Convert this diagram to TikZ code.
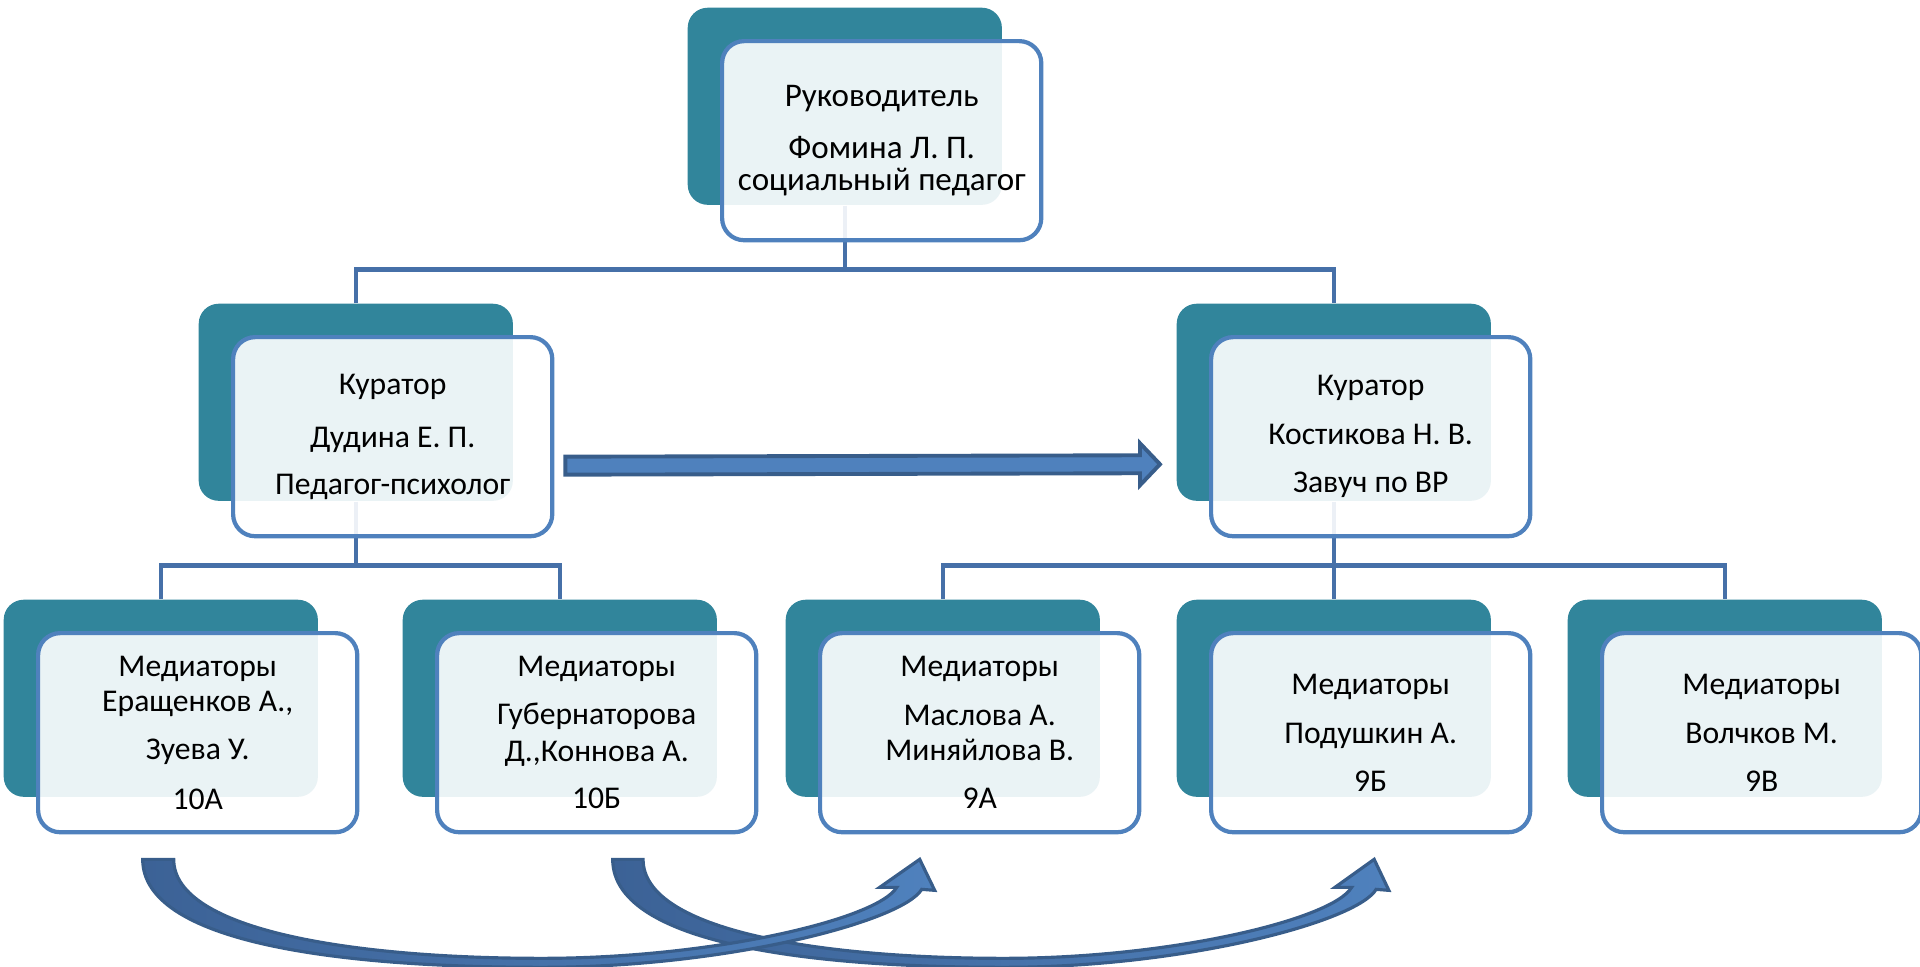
\documentclass[tikz,border=0pt]{standalone}
\usepackage{fontspec}
\setmainfont{Carlito}
\usetikzlibrary{backgrounds}
\definecolor{tealbox}{RGB}{49,133,155}
\definecolor{bordblue}{RGB}{79,129,189}
\definecolor{connblue}{RGB}{70,112,168}
\definecolor{arrowline}{RGB}{56,93,138}
\definecolor{arrowdark}{RGB}{60,98,150}
\tikzset{line cap=round,line join=round}
\tikzset{
    backbox/.style={fill=tealbox,rounded corners=0.2cm,minimum width=3.14cm,minimum height=1.97cm,inner sep=0pt,anchor=north west},
    frontbox/.style={draw=bordblue,line width=1.2pt,fill=white,fill opacity=0.9,text opacity=1,rounded corners=0.22cm,
        minimum width=3.19cm,minimum height=1.99cm,inner sep=0pt,align=center,anchor=north west,
        font=\fontsize{9pt}{9.1pt}\selectfont},
    conn/.style={draw=connblue,line width=1.2pt,line cap=butt},
    flatarrow/.style={draw=arrowline,line width=1.1pt,fill=bordblue,line join=miter},
    curvarrow/.style={draw=arrowline,line width=0.9pt,left color=arrowdark,right color=bordblue},
    bendarrow/.pic={
        \draw[curvarrow] (0,0) .. controls (0,82) and (190,108) .. (399,108)
            .. controls (585,108) and (760,62) .. (779,30)
            -- (792,31) -- (777,0) -- (737,28) -- (754,28)
            .. controls (735,60) and (570,99) .. (399,99)
            .. controls (215,99) and (31,72) .. (31,0) -- cycle;
    }
}
\begin{document}
\begin{tikzpicture}[x=0.01cm,y=-0.01cm]
    \useasboundingbox (0,0) rectangle (1920,966);
    % head
    \node[backbox] (headb) at (687,7) {};
    \node[frontbox,font=\fontsize{9.4pt}{9.1pt}\selectfont] (head) at ([shift={(33,32)}]headb.north west)
        {Руководитель\\[5.7pt]Фомина Л. П.\\социальный педагог};
    % curators
    \node[backbox] (lcurb) at (198,303) {};
    \node[frontbox] (lcur) at ([shift={(33,32)}]lcurb.north west)
        {Куратор\\[6pt]Дудина Е. П.\\[4.3pt]Педагог-психолог};
    \node[backbox] (rcurb) at (1176,303) {};
    \node[frontbox] (rcur) at ([shift={(33,32)}]rcurb.north west)
        {Куратор\\[4.8pt]Костикова Н. В.\\[4.6pt]Завуч по ВР};
    % mediators
    \foreach \n/\x/\t in {%
        a/3/{Медиаторы\\[0.9pt]Еращенков А.,\\[4.6pt]Зуева У.\\[5.1pt]10А},
        b/402/{Медиаторы\\[4.6pt]Губернаторова\\[1.4pt]Д.,Коннова А.\\[4.3pt]10Б},
        c/785/{Медиаторы\\[4.8pt]Маслова А.\\[0.9pt]Миняйлова В.\\[4.6pt]9А},
        d/1176/{Медиаторы\\[4.8pt]Подушкин А.\\[4.6pt]9Б},
        e/1567/{Медиаторы\\[4.8pt]Волчков М.\\[4.6pt]9В}%
    }{%
        \node[backbox] (\n b) at (\x,599) {};
        \node[frontbox] (\n) at ([shift={(33,32)}]\n b.north west) {\t};
    }
    % tree lines
    \begin{scope}[on background layer]
        \draw[conn] (headb.south) -- ++(0,64) coordinate (t1);
        \draw[conn] (lcurb.north) |- (t1) -| (rcurb.north);
        \draw[conn] (lcurb.south) -- ++(0,64) coordinate (t2);
        \draw[conn] (ab.north) |- (t2) -| (bb.north);
        \draw[conn] (rcurb.south) -- (db.north);
        \path (rcurb.south) -- ++(0,64) coordinate (t3);
        \draw[conn] (cb.north) |- (t3) -| (eb.north);
    \end{scope}
    % curator to curator
    \coordinate (as) at ([shift={(11,29)}]lcur.east);
    \coordinate (ae) at ([shift={(-16,62)}]rcurb.west);
    \draw[flatarrow] ([shift={(0,-9)}]as) -- ([shift={(-20,-9)}]ae) -- ([shift={(-20,-21)}]ae) -- (ae)
        -- ([shift={(-20,21)}]ae) -- ([shift={(-20,9)}]ae) -- ([shift={(0,9)}]as) -- cycle;
    % mediators swap
    \coordinate (ta) at ([shift={(-55,25)}]a.south);
    \coordinate (tb) at ([shift={(16,25)}]b.south);
    \pic[xscale=0.98] at (tb) {bendarrow};
    \pic at (ta) {bendarrow};
\end{tikzpicture}
\end{document}
